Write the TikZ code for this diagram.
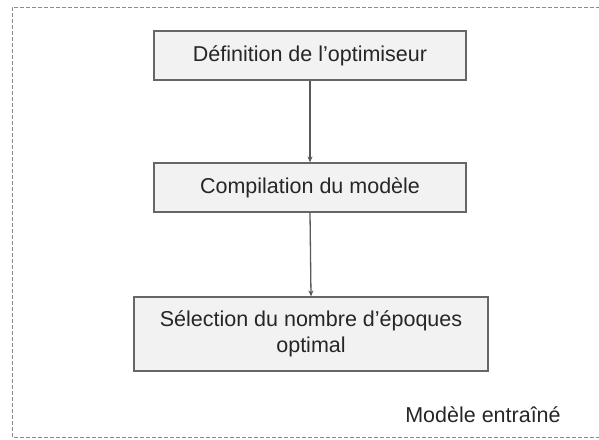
\documentclass[tikz,border=0pt]{standalone}
\usepackage{fontspec}
\setmainfont{Liberation Sans}
\usetikzlibrary{arrows.meta}
\begin{document}
\begin{tikzpicture}[x=1pt,y=-1pt,
  stepbox/.style={draw=black!60,fill=black!5,line width=1.2pt,inner sep=0pt,font=\fontsize{21.5}{26}\selectfont,text=black!85,align=center},
  conn/.style={draw=black!65,line width=1.3pt,-{Stealth[length=6pt,width=5pt]}},
  frame/.style={draw=black!45,line width=1pt,dash pattern=on 4pt off 2pt}]
\useasboundingbox (0,0) rectangle (599,439);
\draw[frame] (612,7) -- (12,7) -- (12,437) -- (612,437);
\node[stepbox,minimum width=312pt,minimum height=49pt] (a) at (310,55.5) {Définition de l’optimiseur};
\node[stepbox,minimum width=312pt,minimum height=49pt] (b) at (310,187.5) {Compilation du modèle};
\node[stepbox,minimum width=354pt,minimum height=74pt] (c) at (311,334) {Sélection du nombre d’époques\\optimal};
\node[font=\fontsize{21.5}{26}\selectfont,text=black!85] (m) at (483,415) {Modèle entraîné};
\draw[conn] (a.south) -- (b.north);
\draw[conn] (b.south) -- (c.north);
\end{tikzpicture}
\end{document}
